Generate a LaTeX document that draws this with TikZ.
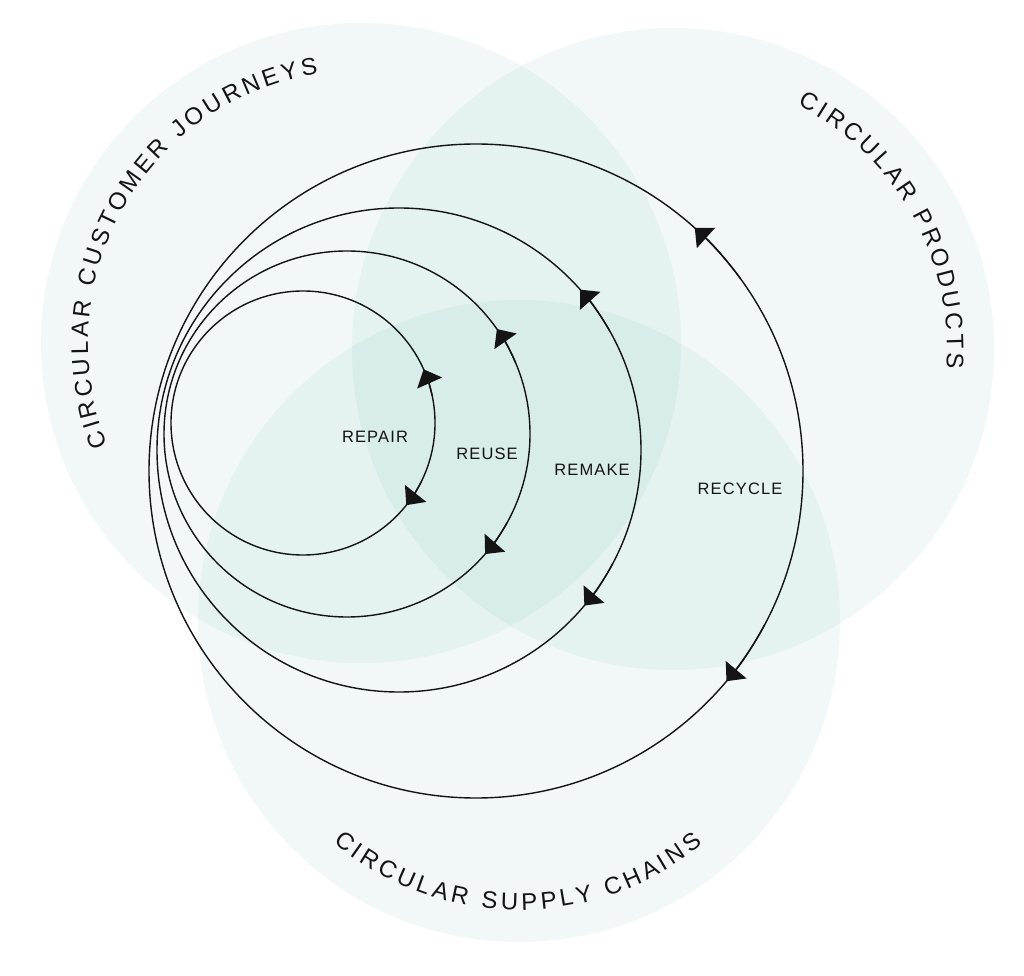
\documentclass[tikz,border=0pt]{standalone}
\usepackage{fontspec}
\setmainfont{Liberation Sans}
\usetikzlibrary{arrows.meta,decorations.text,calc}
\definecolor{venn}{RGB}{120,190,185}
\definecolor{ink}{RGB}{20,20,20}
\begin{document}
\begin{tikzpicture}[x=1pt,y=1pt,
  venncircle/.style={fill=venn, fill opacity=0.1, draw=none},
  loopline/.style={draw=ink, line width=1.4pt},
  flow/.style={draw=ink, line width=1.4pt, -{Triangle[length=15pt,width=27pt]}},
  inner/.style={font=\fontsize{16.5}{16.5}\selectfont\addfontfeature{LetterSpace=7}, text=ink, inner sep=0pt},
  curved/.style={decorate, decoration={text along path, text align={fit to path}, text color=ink}}
]
\fill[white] (0,0) rectangle (1024,975);
\useasboundingbox (0,0) rectangle (1024,975);

% centres
\coordinate (A) at (361,632);
\coordinate (B) at (673,626);
\coordinate (C) at (519,354);
\coordinate (rp) at (303,552);
\coordinate (ru) at (347,541);
\coordinate (rm) at (399,525);
\coordinate (rc) at (476,504);

% venn circles
\fill[venncircle] (A) circle[radius=320];
\fill[venncircle] (B) circle[radius=321];
\fill[venncircle] (C) circle[radius=321];

% loops
\draw[loopline] (rp) circle[radius=132];
\draw[loopline] (ru) circle[radius=183];
\draw[loopline] (rm) circle[radius=242];
\draw[loopline] (rc) circle[radius=327];

% arrowheads
\foreach \c/\r/\u/\d in {rp/132/24/-38.5, ru/183/35/-41, rm/242/41.5/-40, rc/327/48/-40} {
  \pgfmathsetmacro{\ua}{\u-12}
  \pgfmathsetmacro{\da}{\d+12}
  \draw[flow] ($(\c)+(\ua:\r)$) arc[start angle=\ua, end angle=\u, radius=\r];
  \draw[flow] ($(\c)+(\da:\r)$) arc[start angle=\da, end angle=\d, radius=\r];
}

% inner labels
\node[inner] (repair) at (375,538) {REPAIR};
\node[inner] (reuse) at (487,521) {REUSE};
\node[inner] (remake) at (592,505) {REMAKE};
\node[inner] (recycle) at (740,486) {RECYCLE};

% curved labels
\path[curved, decoration={text={|\fontsize{24}{24}\selectfont|CIRCULAR CUSTOMER JOURNEYS}}]
  ($(A)+(202:273)$) arc[start angle=202, end angle=99, radius=273];
\path[curved, decoration={text={|\fontsize{24}{24}\selectfont|CIRCULAR PRODUCTS}}]
  ($(B)+(63:274)$) arc[start angle=63, end angle=-4, radius=274];
\path[curved, decoration={text={|\fontsize{24}{24}\selectfont|CIRCULAR SUPPLY CHAINS}}]
  ($(C)+(230:289)$) arc[start angle=230, end angle=309.5, radius=289];
\end{tikzpicture}
\end{document}
